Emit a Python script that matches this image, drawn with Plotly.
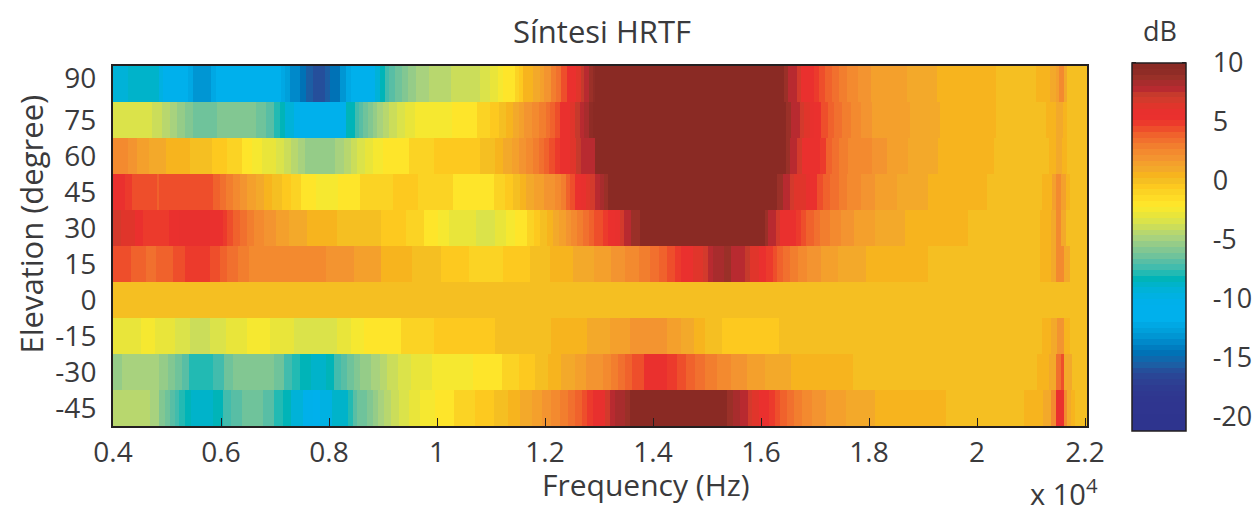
import plotly.graph_objects as go

elevations = [90, 75, 60, 45, 30, 15, 0, -15, -30, -45]
elevation_text = ["90", "75", "60", "45", "30", "15", "0", "-15", "-30", "-45"]
x_ticks = [0.4, 0.6, 0.8, 1.0, 1.2, 1.4, 1.6, 1.8, 2.0, 2.2]
x_tick_text = ["0.4", "0.6", "0.8", "1", "1.2", "1.4", "1.6", "1.8", "2", "2.2"]
cb_ticks = [10, 5, 0, -5, -10, -15, -20]
cb_text = ["10", "5", "0", "-5", "-10", "-15", "-20"]
F_START, F_END = 0.4, 2.2037
DB_MIN, DB_MAX = -21.2, 10.0

# 64-level palette, top (10 dB) to bottom
palette = ["#8a2a24","#8f2c26","#9a3028","#a82c2d","#b82a30","#c63a2c","#d33a2c","#e0352b","#e8302e","#ea302e",
 "#ec3a2c","#ee4e2b","#f0622c","#f1702e","#f27e2e","#f38a2f","#f39430","#f4a02c","#f3a92a","#f7b41e",
 "#f5bf22","#fdc91f","#fbd324","#fedc26","#fee52a","#f6e830","#e9e53a","#dbe34a","#cbdd5a","#b8d76e",
 "#a8d27e","#95cc88","#82c792","#6fc39b","#58bea5","#42bcad","#22bab3","#00b4b8","#00b3ca","#00b2d8",
 "#00b1e2","#00b0ea","#00b0ec","#00b0ec","#00b0ec","#00a8e4","#00a0db","#0096d3","#0089ca","#007dc0",
 "#0072b6","#0f68ad","#1c5ea4","#254f9b","#2a4696","#2d4093","#2e3b91","#2f3890","#2f368f","#2f358f",
 "#2f358f","#2e348e","#2e348e","#2e348e"]

# (band end frequency in 1e4 Hz, level in dB)
band_90 = [(.428,-9.26),(.485,-9.0),(.493,-9.75),(.539,-10.73),(.548,-12.2),(.581,-13.2),(.591,-12.2),(.712,-10.73),
 (.718,-12.2),(.727,-12.7),(.746,-13.65),(.758,-14.6),(.770,-15.6),(.792,-16.1),(.801,-15.6),(.820,-14.6),(.832,-13.2),
 (.841,-12.2),(.885,-10.73),(.894,-9.3),(.903,-8.29),(.912,-7.31),(.923,-6.83),(.936,-6.34),(.946,-5.85),(.962,-5.36),
 (.986,-4.88),(1.025,-4.39),(1.079,-3.9),(1.099,-3.41),(1.113,-2.92),(1.123,-2.44),(1.144,-1.95),(1.152,-.97),(1.160,-.48),
 (1.178,.49),(1.190,.98),(1.199,1.47),(1.212,1.95),(1.221,2.93),(1.230,3.42),(1.240,4.39),(1.258,5.37),(1.266,6.3),
 (1.272,7.3),(1.281,7.8),(1.289,8.78),(1.293,9.27),(1.642,10),(1.650,8.78),(1.666,7.8),(1.674,6.8),(1.698,5.37),(1.708,4.88),
 (1.718,4.39),(1.731,3.9),(1.744,3.42),(1.760,2.93),(1.780,2.44),(1.803,1.95),(1.831,1.47),(1.870,1.3),(1.925,.98),(2.035,.49),
 (2.110,0),(2.135,.49),(2.146,.98),(2.152,1.47),(2.162,2.44),(2.167,.98),(2.2037,0)]
band_75 = [(.473,-3.41),(.491,-3.9),(.506,-4.39),(.519,-4.88),(.533,-5.36),(.548,-5.85),(.593,-6.34),(.665,-5.85),(.684,-6.34),
 (.698,-6.83),(.709,-7.6),(.718,-8.29),(.736,-9.26),(.746,-10.24),(.832,-10.73),(.848,-8.29),(.856,-7.31),(.863,-6.83),(.872,-6.34),
 (.881,-5.85),(.888,-5.36),(.900,-4.88),(.911,-4.39),(.926,-3.9),(.940,-3.41),(.960,-2.92),(.986,-2.44),(1.027,-2.2),(1.074,-1.7),
 (1.098,-1.0),(1.114,-.48),(1.127,0),(1.141,.49),(1.152,.98),(1.162,1.47),(1.175,1.95),(1.189,2.44),(1.201,2.93),(1.210,3.42),
 (1.218,3.9),(1.227,4.39),(1.246,5.37),(1.255,6.3),(1.264,7.3),(1.272,7.8),(1.281,8.29),(1.289,9.27),(1.647,10),(1.656,8.78),
 (1.672,8.0),(1.679,6.8),(1.691,6.3),(1.699,5.85),(1.712,5.37),(1.724,4.39),(1.736,3.9),(1.750,3.42),(1.766,2.93),(1.785,2.44),
 (1.806,1.95),(1.836,1.47),(1.875,1.3),(1.931,.98),(2.035,.49),(2.128,0),(2.146,.49),(2.160,.98),(2.167,.49),(2.2037,0)]
band_60 = [(.428,2.44),(.445,1.95),(.466,1.47),(.498,.98),(.542,.49),(.583,0),(.612,-.48),(.638,-1.0),(.658,-1.95),(.676,-2.2),
 (.690,-2.7),(.702,-2.92),(.716,-3.41),(.729,-3.9),(.742,-4.39),(.756,-4.88),(.811,-5.36),(.827,-4.88),(.840,-4.39),(.851,-3.9),
 (.867,-3.41),(.882,-2.92),(.900,-2.44),(.948,-1.95),(.994,-1.0),(1.079,-.48),(1.107,0),(1.123,.49),(1.139,.98),(1.151,1.47),
 (1.164,1.95),(1.177,2.44),(1.188,2.93),(1.198,3.42),(1.207,3.9),(1.218,4.39),(1.227,4.88),(1.246,5.37),(1.258,6.3),(1.267,7.3),
 (1.293,7.8),(1.646,10),(1.653,8.78),(1.667,8.0),(1.676,6.8),(1.709,5.37),(1.720,4.88),(1.731,3.9),(1.744,3.42),(1.761,2.93),
 (1.782,2.6),(1.805,2.2),(1.833,1.95),(1.872,1.47),(1.927,.98),(2.031,.49),(2.133,0),(2.146,.49),(2.158,.98),(2.166,.49),(2.2037,0)]
band_45 = [(.422,5.37),(.436,4.88),(.449,4.6),(.481,4.39),(.486,3.9),(.527,4.39),(.570,4.6),(.586,4.2),(.599,3.9),(.610,3.42),
 (.623,2.93),(.636,2.44),(.649,1.95),(.664,1.47),(.679,.98),(.695,.49),(.713,0),(.729,-.48),(.749,-1.0),(.776,-1.7),(.816,-2.2),
 (.858,-1.7),(.919,-.97),(.964,-.48),(1.029,-.97),(1.106,-1.7),(1.125,-.97),(1.140,-.48),(1.153,0),(1.164,.49),(1.179,.98),
 (1.188,1.47),(1.199,1.7),(1.218,1.95),(1.229,2.44),(1.238,2.93),(1.246,3.9),(1.255,4.39),(1.266,5.37),(1.275,5.85),(1.284,6.3),
 (1.292,6.8),(1.301,7.8),(1.310,8.29),(1.317,8.78),(1.630,10),(1.641,8.78),(1.653,7.8),(1.661,6.8),(1.684,6.3),(1.691,5.85),
 (1.703,5.37),(1.714,4.39),(1.728,3.9),(1.744,3.42),(1.760,2.93),(1.785,2.44),(1.812,1.95),(1.851,1.47),(1.909,.98),(2.019,.49),
 (2.120,0),(2.138,.49),(2.146,1.47),(2.156,2.44),(2.164,1.47),(2.173,.49),(2.2037,0)]
band_30 = [(.414,6.8),(.440,6.3),(.455,5.37),(.503,5.1),(.522,5.37),(.551,6.0),(.579,6.1),(.603,5.37),(.612,4.88),(.623,4.39),
 (.635,3.9),(.648,3.42),(.662,2.93),(.679,2.44),(.701,1.95),(.725,1.47),(.759,.98),(.814,.49),(.896,0),(.942,-.48),(.975,-.97),
 (1.001,-1.7),(1.022,-2.3),(1.044,-2.92),(1.072,-3.1),(1.107,-3.41),(1.127,-2.92),(1.144,-2.44),(1.166,-1.95),(1.179,-.97),
 (1.190,-.48),(1.203,0),(1.214,.49),(1.225,.98),(1.238,1.47),(1.249,1.95),(1.259,2.44),(1.270,2.93),(1.281,3.42),(1.290,3.9),
 (1.307,4.39),(1.317,4.88),(1.329,5.37),(1.338,5.85),(1.346,6.8),(1.360,7.8),(1.375,8.78),(1.607,10),(1.613,8.78),(1.627,7.8),
 (1.635,6.8),(1.664,5.37),(1.674,4.88),(1.684,4.39),(1.698,3.9),(1.710,3.42),(1.727,2.93),(1.749,2.44),(1.773,1.95),(1.811,1.47),
 (1.866,.98),(1.983,.49),(2.116,0),(2.137,.49),(2.147,.98),(2.156,2.44),(2.164,.98),(2.2037,0)]
band_15 = [(.433,4.39),(.462,3.9),(.479,3.2),(.512,3.9),(.533,4.39),(.579,4.88),(.598,4.39),(.612,3.9),(.631,3.42),(.651,2.93),
 (.685,2.6),(.794,2.2),(.846,1.95),(.896,1.3),(.953,.49),(1.007,0),(1.060,-.48),(1.123,-.97),(1.172,-.48),(1.209,0),(1.251,.49),
 (1.290,.98),(1.322,1.47),(1.349,1.95),(1.374,2.44),(1.394,2.93),(1.411,3.42),(1.425,3.9),(1.440,4.39),(1.451,4.88),(1.474,5.37),
 (1.492,6.3),(1.501,6.8),(1.512,7.8),(1.531,8.29),(1.544,8.78),(1.570,7.8),(1.579,7.3),(1.596,6.3),(1.610,5.37),(1.622,4.88),
 (1.630,4.39),(1.640,3.9),(1.653,3.42),(1.668,2.93),(1.686,2.44),(1.711,1.95),(1.742,1.47),(1.794,.98),(1.910,.49),(2.116,0),
 (2.137,.49),(2.146,.98),(2.162,2.44),(2.173,.98),(2.2037,0)]
band_0 = [(2.2037,0)]
band_m15 = [(.452,-2.92),(.477,-2.44),(.514,-2.92),(.542,-3.41),(.579,-3.9),(.609,-3.41),(.649,-2.92),(.690,-2.44),(.736,-2.92),
 (.814,-3.41),(.840,-2.92),(.864,-2.44),(.894,-1.95),(.933,-1.7),(.994,-.97),(1.107,-.48),(1.212,0),(1.277,.49),(1.320,.98),
 (1.357,1.47),(1.425,1.95),(1.451,1.47),(1.475,.98),(1.496,.49),(1.527,0),(1.633,-.48),(2.120,0),(2.137,.49),(2.148,.98),
 (2.162,1.95),(2.173,.49),(2.2037,0)]
band_m30 = [(.416,-5.36),(.486,-4.88),(.501,-5.36),(.514,-5.85),(.527,-6.34),(.540,-6.83),(.586,-7.8),(.605,-7.31),(.622,-6.34),
 (.699,-5.85),(.716,-6.34),(.731,-7.31),(.746,-7.8),(.766,-8.29),(.794,-8.78),(.810,-8.29),(.823,-7.5),(.834,-6.83),(.846,-6.34),
 (.857,-5.85),(.877,-5.36),(.894,-4.88),(.908,-4.39),(.927,-3.9),(.951,-3.41),(.990,-2.92),(1.066,-2.2),(1.120,-1.95),(1.151,-.97),
 (1.182,-.48),(1.206,0),(1.230,.49),(1.255,.98),(1.275,1.47),(1.291,1.95),(1.307,1.95),(1.322,2.44),(1.335,2.93),(1.348,3.42),
 (1.362,3.9),(1.383,4.39),(1.425,5.37),(1.444,4.88),(1.462,4.39),(1.477,3.9),(1.496,3.42),(1.518,2.93),(1.544,2.44),(1.574,1.95),
 (1.607,1.47),(1.655,.98),(1.770,.49),(2.111,0),(2.133,.49),(2.146,.98),(2.156,3.42),(2.162,4.39),(2.175,.98),(2.2037,0)]
band_m45 = [(.420,-4.2),(.468,-4.39),(.485,-4.88),(.497,-5.85),(.505,-6.34),(.514,-6.83),(.523,-7.31),(.533,-7.8),(.544,-8.29),
 (.586,-8.9),(.603,-8.29),(.618,-7.5),(.638,-6.83),(.677,-6.34),(.699,-7.0),(.714,-7.8),(.729,-8.29),(.751,-9.26),(.770,-10.24),
 (.783,-10.73),(.805,-9.75),(.835,-8.9),(.844,-7.8),(.851,-6.83),(.870,-6.34),(.881,-5.85),(.890,-5.36),(.901,-4.88),(.914,-4.39),
 (.929,-3.9),(.949,-3.41),(.968,-2.92),(.996,-2.44),(1.031,-1.95),(1.070,-.97),(1.105,-.48),(1.131,0),(1.153,.49),(1.175,.98),
 (1.194,1.47),(1.212,1.95),(1.227,2.44),(1.242,2.93),(1.255,3.42),(1.268,3.9),(1.277,4.39),(1.288,4.88),(1.312,5.85),(1.320,6.8),
 (1.329,7.8),(1.348,8.29),(1.357,8.78),(1.537,10),(1.548,8.78),(1.561,8.29),(1.575,7.8),(1.583,6.8),(1.596,6.3),(1.614,5.37),
 (1.625,4.88),(1.635,4.39),(1.648,3.9),(1.661,3.42),(1.675,2.93),(1.694,2.44),(1.720,1.95),(1.757,1.47),(1.812,.98),(1.942,.49),
 (2.087,0),(2.122,.49),(2.137,.98),(2.146,2.44),(2.161,5.37),(2.166,2.44),(2.174,.98),(2.181,.49),(2.2037,0)]
rows = [band_90, band_75, band_60, band_45, band_30, band_15, band_0, band_m15, band_m30, band_m45]

FONT = "Open Sans"
INK = "#3a3a3c"
colorscale = []
levels = palette[::-1]
for i, c in enumerate(levels):
    colorscale += [[i / len(levels), c], [(i + 1) / len(levels), c]]

fig = go.Figure()
for elev, bands in zip(elevations, rows):
    edges = [F_START] + [b[0] for b in bands]
    fig.add_trace(go.Heatmap(x=edges, y=[elev + 7.5, elev - 7.5], z=[[b[1] for b in bands]],
                             coloraxis="coloraxis"))

PW, PH = 974.5, 360.0
L, T = 112.5, 66.0
CB_TOP, CB_H = 62.5, 367.5
def py(v):
    top_px = CB_TOP + (DB_MAX - v) / (DB_MAX - DB_MIN) * CB_H
    return 1 - (top_px - T) / PH
def px(p):
    return (p - L) / PW
def note(text, x, y, size, **kw):
    return dict(text=text, x=px(x), y=1 - (y - T) / PH, xref="paper", yref="paper", showarrow=False,
                xanchor="center", yanchor="middle", font=dict(size=size), **kw)

shapes = []
for v in cb_ticks:
    for a, b in ((1132, 1136), (1182, 1186)):
        shapes.append(dict(type="line", xref="paper", yref="paper", x0=px(a), x1=px(b), y0=py(v), y1=py(v),
                           line=dict(color="#231f20", width=1)))

# the 90 label sits a little above its band in the reference
y_label_pos = [92.5] + elevations[1:]

fig.update_layout(
    width=1255, height=507, margin=dict(l=L, r=1255 - L - PW, t=T, b=507 - T - PH, pad=0, autoexpand=False),
    paper_bgcolor="white", plot_bgcolor="white", font=dict(family=FONT, size=28, color=INK),
    shapes=shapes,
    coloraxis=dict(cmin=DB_MIN, cmax=DB_MAX, colorscale=colorscale,
        colorbar=dict(x=px(1132), xanchor="left", xref="paper", y=py(DB_MAX), yanchor="top", yref="paper",
                      thickness=54, thicknessmode="pixels", len=CB_H, lenmode="pixels", xpad=0, ypad=0,
                      outlinecolor="#231f20", outlinewidth=1.5, tickvals=cb_ticks, ticktext=cb_text, ticks="outside", ticklen=21,
                      tickcolor="rgba(0,0,0,0)", tickfont=dict(size=27, family=FONT, color=INK))),
    xaxis=dict(range=[F_START, F_END], tickvals=x_ticks, ticktext=x_tick_text, ticks="inside", ticklen=8, tickwidth=1.2,
               tickcolor="#231f20", showline=True, linecolor="#231f20", linewidth=2, mirror=True, showgrid=False, zeroline=False,
               tickfont=dict(size=28)),
    yaxis=dict(range=[-52.5, 97.5], tickvals=y_label_pos, ticktext=elevation_text, ticks="outside", ticklen=9,
               tickcolor="rgba(0,0,0,0)", showline=True, linecolor="#231f20", linewidth=2, mirror=True,
               showgrid=False, zeroline=False, tickfont=dict(size=28)),
    annotations=[
        note("Síntesi HRTF", 602, 31, 31),
        note("dB", 1160, 31, 27),
        note("Frequency (Hz)", 646, 484, 30),
        note("Elevation (degree)", 30, 224, 31, textangle=-90),
        note("x 10<sup>4</sup>", 1064, 492, 29),
    ],
)
fig.write_html("out.html", post_script="document.body.style.margin='0';", config={"displayModeBar": False})
